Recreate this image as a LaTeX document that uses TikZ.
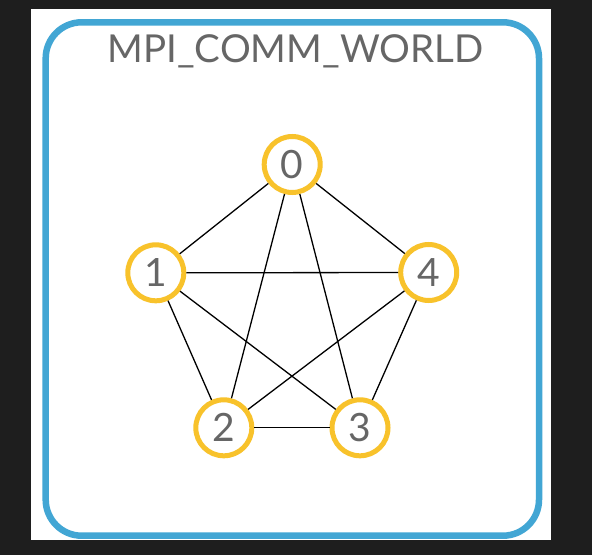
\documentclass[tikz,border=0pt]{standalone}
\usepackage{fontspec}
\setmainfont{Lato}
\definecolor{bgdark}{HTML}{1E1E1E}
\definecolor{frameblue}{HTML}{42A6D4}
\definecolor{ringyellow}{HTML}{F8C22B}
\definecolor{txtgray}{HTML}{666666}
\begin{document}
\begin{tikzpicture}[x=1bp,y=-1bp,
  rank/.style={circle,draw=ringyellow,line width=5bp,fill=white,minimum size=56bp,inner sep=0pt,
    text=txtgray,font=\fontsize{39bp}{39bp}\selectfont},
  link/.style={draw=black,line width=1.3bp}]
\useasboundingbox (0,0) rectangle (592,555);
\fill[bgdark] (0,0) rectangle (592,555);
\fill[white] (31,9) rectangle (551,540);
\draw[frameblue,line width=6.5bp,rounded corners=36bp] (45.7,22.3) rectangle (539,535.7);
\node[anchor=base,text=txtgray,font=\fontsize{38.5bp}{40bp}\selectfont,inner sep=0pt] (title) at (295.5,63) {MPI\_COMM\_WORLD};
\node[rank] (n0) at (292.2,164.5) {0};
\node[rank] (n1) at (155.8,272.8) {1};
\node[rank] (n4) at (428.7,272.5) {4};
\node[rank] (n2) at (223.8,427.8) {2};
\node[rank] (n3) at (360,427.8) {3};
\draw[link] (n0) -- (n1);
\draw[link] (n0) -- (n2);
\draw[link] (n0) -- (n3);
\draw[link] (n0) -- (n4);
\draw[link] (n1) -- (n2);
\draw[link] (n1) -- (n3);
\draw[link] (n1) -- (n4);
\draw[link] (n2) -- (n3);
\draw[link] (n2) -- (n4);
\draw[link] (n3) -- (n4);
\end{tikzpicture}
\end{document}
